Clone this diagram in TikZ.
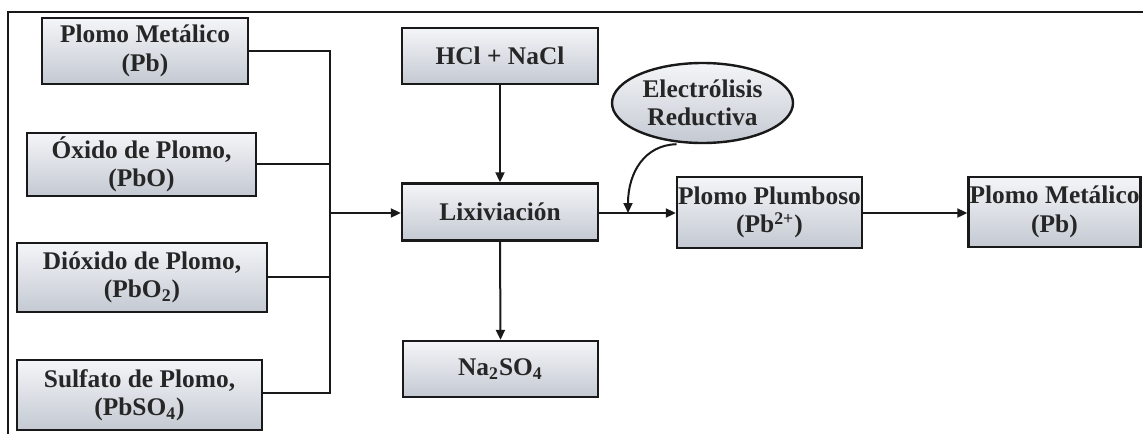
\documentclass[tikz,border=0pt]{standalone}
\usepackage{fontspec}
\setmainfont{Liberation Serif}
\usetikzlibrary{shapes.geometric,arrows.meta}
\definecolor{boxtop}{RGB}{244,245,248}
\definecolor{boxbot}{RGB}{196,201,210}
\definecolor{linec}{RGB}{25,25,25}
\tikzset{
  procbox/.style={draw=linec, line width=1.2pt, top color=boxtop, bottom color=boxbot,
    align=center, inner sep=0pt, font=\bfseries\fontsize{12.7}{14.2}\selectfont, text=black!85},
  ovalbox/.style={ellipse, draw=linec, line width=1.2pt, top color=boxtop, bottom color=boxbot,
    align=center, inner sep=0pt, font=\bfseries\fontsize{12.7}{14.2}\selectfont, text=black!85},
  conn/.style={draw=linec, line width=1pt},
  arr/.style={conn, -{Triangle[length=5pt,width=4.5pt]}},
}
\begin{document}
\begin{tikzpicture}[x=0.5pt,y=-0.5pt]
\useasboundingbox (0,0) rectangle (1143,434);
% frame
\draw[linec, line width=1.2pt] (8,434) -- (8,12) -- (1143,12);
% left inputs
\node[procbox, minimum width=103pt, minimum height=33pt] (pm) at (145,51) {Plomo Metálico\\(Pb)};
\node[procbox, minimum width=114.5pt, minimum height=31.5pt] (ox) at (141.5,164.5) {Óxido de Plomo,\\(PbO)};
\node[procbox, minimum width=125pt, minimum height=34.5pt] (di) at (142,277.5) {Dióxido de Plomo,\\(PbO\textsubscript{2})};
\node[procbox, minimum width=122.5pt, minimum height=35pt] (su) at (139.5,395) {Sulfato de Plomo,\\(PbSO\textsubscript{4})};
% middle column
\node[procbox, minimum width=98pt, minimum height=28pt] (hcl) at (500,56) {HCl + NaCl};
\node[procbox, minimum width=98pt, minimum height=28.5pt] (lix) at (500,212) {Lixiviación};
\node[procbox, minimum width=97.5pt, minimum height=28pt] (na) at (500.5,369) {Na\textsubscript{2}SO\textsubscript{4}};
% ellipse
\node[ovalbox, minimum width=90.5pt, minimum height=40pt] (el) at (702.5,103) {Electrólisis\\Reductiva};
% right
\node[procbox, minimum width=92.5pt, minimum height=35.5pt] (pp) at (769.5,212.5) {Plomo Plumboso\\(Pb\textsuperscript{2+})};
\node[procbox, minimum width=86pt, minimum height=35pt] (pm2) at (1054.5,212) {Plomo Metálico\\(Pb)};
% collector
\coordinate (bus) at (330,213);
\draw[conn] (pm.east |- 0,51) -| (330,213);
\draw[conn] (ox.east |- 0,164) -- (330,164);
\draw[conn] (di.east |- 0,277) -- (330,277);
\draw[conn] (su.east |- 0,393) -| (330,213);
\draw[arr] (bus) -- (lix.west |- bus);
% vertical arrows
\draw[arr] (hcl.south) -- (lix.north);
\draw[arr] (lix.south) -- (na.north);
% horizontal chain
\coordinate (join) at (628,213);
\draw[arr] (lix.east |- join) -- (pp.west |- join);
\draw[arr] (pp.east |- join) -- (pm2.west |- join);
% curved arrow from ellipse
\draw[arr] (el.south) ++(-26,0) coordinate (es) .. controls (645,145) and (628,172) .. (join);
\end{tikzpicture}
\end{document}
